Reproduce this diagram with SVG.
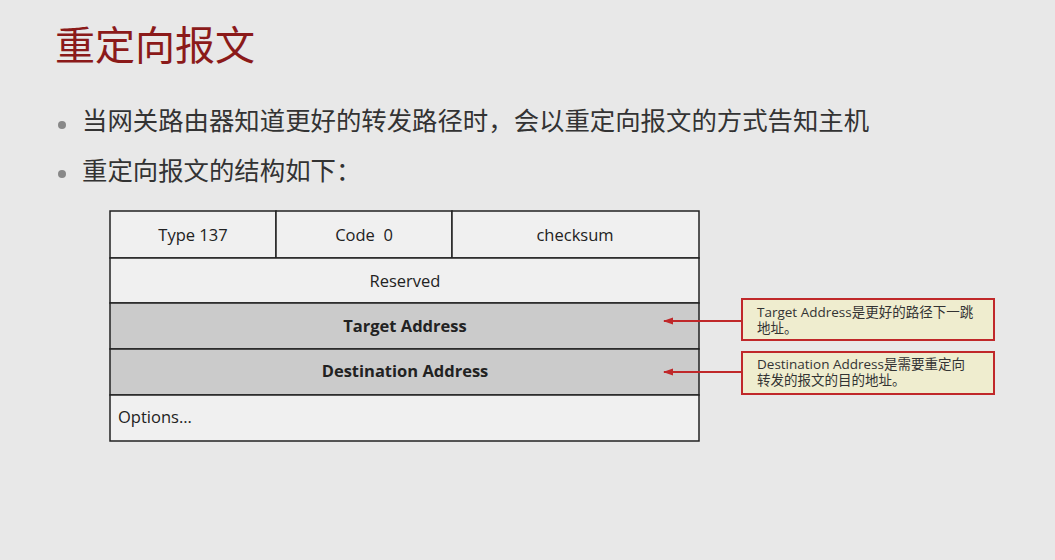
<svg xmlns="http://www.w3.org/2000/svg" width="1055" height="560" viewBox="0 0 1055 560">
<style>
.cjk{font-family:"Noto Sans CJK SC","Noto Sans",sans-serif}
.cell{fill:#f0f0f0;stroke:#222;stroke-width:1.5}
.grey{fill:#cbcbcb;stroke:#222;stroke-width:1.5}
.t{font-family:"Open Sans","Noto Sans","Noto Sans CJK SC",sans-serif;font-size:16.5px;fill:#222;text-anchor:middle}
.b{font-weight:bold}
.call{fill:#efedcf;stroke:#c0282a;stroke-width:2}
.ct{font-family:"Open Sans","Noto Sans CJK SC",sans-serif;font-size:13.5px;fill:#333}
.conn{stroke:#c0282a;stroke-width:2;fill:none}
</style>
<defs>
<marker id="ah" markerWidth="10" markerHeight="8" refX="9" refY="4" orient="auto" markerUnits="userSpaceOnUse">
<path d="M0,0.5 L10,4 L0,7.5 Z" fill="#c0282a"/>
</marker>
</defs>
<rect width="1055" height="560" fill="#e8e8e8"/>
<text x="55" y="60" class="cjk" font-size="40" fill="#8b1a1a">重定向报文</text>
<circle cx="62" cy="125" r="4" fill="#888"/>
<circle cx="62" cy="174" r="4" fill="#888"/>
<text x="82" y="130" class="cjk" font-size="25.4" fill="#333">当网关路由器知道更好的转发路径时，会以重定向报文的方式告知主机</text>
<text x="82" y="180" class="cjk" font-size="25.4" fill="#333">重定向报文的结构如下：</text>
<g id="row1">
<rect x="110" y="211" width="166" height="47" class="cell"/>
<rect x="276" y="211" width="176" height="47" class="cell"/>
<rect x="452" y="211" width="247" height="47" class="cell"/>
<text x="193" y="241" class="t">Type 137</text>
<text x="364" y="241" class="t">Code&#160; 0</text>
<text x="575" y="241" class="t">checksum</text>
</g>
<g id="reserved">
<rect x="110" y="258" width="589" height="45" class="cell"/>
<text x="405" y="287" class="t">Reserved</text>
</g>
<g id="target">
<rect x="110" y="303" width="589" height="46" class="grey"/>
<text x="405" y="332" class="t b">Target Address</text>
</g>
<g id="destination">
<rect x="110" y="349" width="589" height="46" class="grey"/>
<text x="405" y="377" class="t b">Destination Address</text>
</g>
<g id="options">
<rect x="110" y="395" width="589" height="46" class="cell"/>
<text x="118" y="423" class="t" style="text-anchor:start">Options...</text>
</g>
<g id="note1">
<rect x="742" y="299" width="252" height="41" class="call"/>
<text x="757" y="317" class="ct">Target Address是更好的路径下一跳</text>
<text x="757" y="333" class="ct">地址。</text>
</g>
<g id="note2">
<rect x="742" y="352" width="252" height="42" class="call"/>
<text x="757" y="369" class="ct">Destination Address是需要重定向</text>
<text x="757" y="385" class="ct">转发的报文的目的地址。</text>
</g>
<g id="connectors">
<line x1="741" y1="321" x2="664" y2="321" class="conn" marker-end="url(#ah)"/>
<line x1="741" y1="372" x2="664" y2="372" class="conn" marker-end="url(#ah)"/>
</g>
</svg>
